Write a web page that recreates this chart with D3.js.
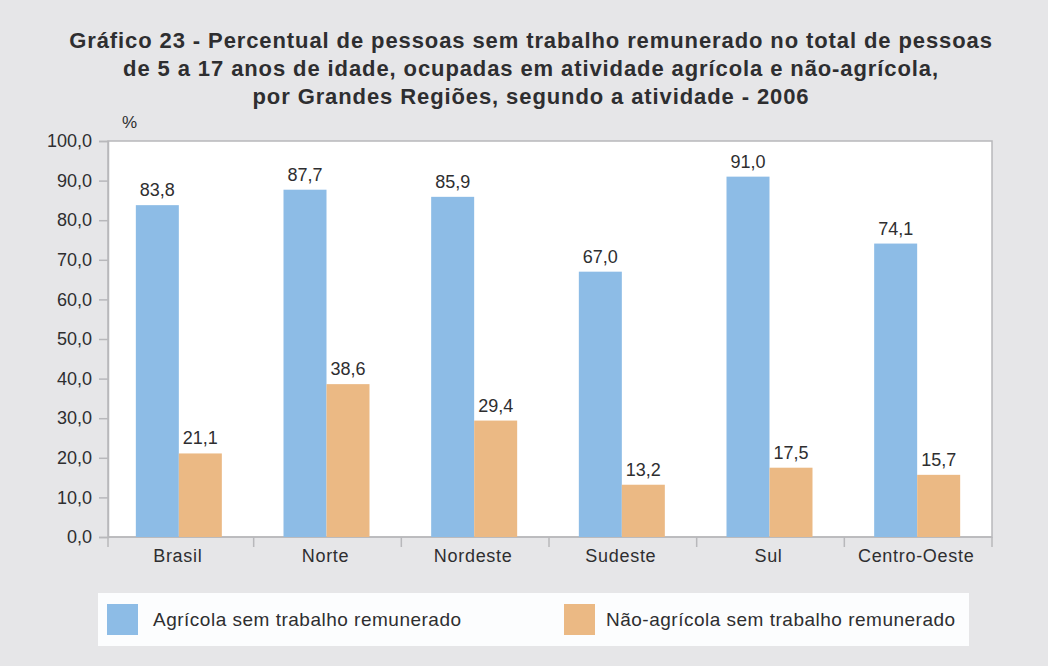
<!DOCTYPE html>
<html>
<head>
<meta charset="utf-8">
<script src="https://cdn.jsdelivr.net/npm/d3@7"></script>
<style>
  body { margin: 0; background: #e6e6e8; }
  svg { display: block; font-family: "Liberation Sans", Arial, sans-serif; }
</style>
</head>
<body>
<div id="chart"></div>
<script>
var regioes = ["Brasil", "Norte", "Nordeste", "Sudeste", "Sul", "Centro-Oeste"];
var agricola = [83.8, 87.7, 85.9, 67.0, 91.0, 74.1];
var naoAgricola = [21.1, 38.6, 29.4, 13.2, 17.5, 15.7];
var series = ["Agrícola sem trabalho remunerado", "Não-agrícola sem trabalho remunerado"];
var yTicks = [0, 10, 20, 30, 40, 50, 60, 70, 80, 90, 100];
var titulo = [
  "Gráfico 23 - Percentual de pessoas sem trabalho remunerado no total de pessoas",
  "de 5 a 17 anos de idade, ocupadas em atividade agrícola e não-agrícola,",
  "por Grandes Regiões, segundo a atividade - 2006"
];

var W = 1048, H = 666;
var margin = {top: 141, right: 56, bottom: 129, left: 106};
var width = W - margin.left - margin.right,
    height = H - margin.top - margin.bottom;
var cores = ["#8dbce6", "#ebb984"];
var texto = "#2e2e30";
var fmt = function(v) { return d3.format(".1f")(v).replace(".", ","); };

var svg = d3.select("#chart").append("svg")
    .attr("width", W).attr("height", H);

svg.append("rect").attr("width", W).attr("height", H).attr("fill", "#e6e6e8");

// title
svg.append("g").selectAll("text")
  .data(titulo).enter().append("text")
    .attr("x", 531)
    .attr("y", function(d, i) { return 48 + i * 28; })
    .attr("text-anchor", "middle")
    .style("font-size", "22px")
    .style("font-weight", "bold")
    .style("letter-spacing", "0.9px")
    .attr("fill", texto)
    .text(function(d) { return d; });

var g = svg.append("g")
    .attr("transform", "translate(" + margin.left + "," + margin.top + ")");

var x = d3.scaleBand().domain(regioes).range([0, width]);
var xs = d3.scaleBand().domain([0, 1]).range([x.bandwidth() / 2 - 44, x.bandwidth() / 2 + 42]);
var y = d3.scaleLinear().domain([0, 100]).range([height, 0]);

// plot area
g.append("rect")
    .attr("x", 2).attr("y", 0)
    .attr("width", width - 2).attr("height", height)
    .attr("fill", "#fff")
    .attr("stroke", "#b8b8bb").attr("stroke-width", 1.5);

// y axis
var yAxis = g.append("g")
    .attr("transform", "translate(2,0)")
    .call(d3.axisLeft(y).tickValues(yTicks).tickSize(9).tickPadding(7).tickFormat(fmt));
yAxis.select(".domain").attr("stroke", "#b8b8bb").attr("stroke-width", 1.5);
yAxis.selectAll(".tick line").attr("stroke", "#b8b8bb").attr("stroke-width", 1.5);
yAxis.selectAll("text").style("font-size", "18px").attr("fill", texto)
    .style("font-family", "Liberation Sans, Arial, sans-serif");

svg.append("text")
    .attr("x", 122).attr("y", 128)
    .style("font-size", "17px").attr("fill", texto)
    .text("%");

// x axis: category separators and labels
var bounds = regioes.map(function(r) { return x(r); }).concat([width]);
g.append("line")
    .attr("x1", 2).attr("x2", width).attr("y1", height).attr("y2", height)
    .attr("stroke", "#b8b8bb").attr("stroke-width", 1.5);
g.selectAll(".sep")
  .data(bounds).enter().append("line")
    .attr("class", "sep")
    .attr("x1", function(d, i) { return i === 0 ? 2 : d; })
    .attr("x2", function(d, i) { return i === 0 ? 2 : d; })
    .attr("y1", height).attr("y2", height + 10)
    .attr("stroke", "#b8b8bb").attr("stroke-width", 1.5);
g.selectAll(".xlab")
  .data(regioes).enter().append("text")
    .attr("class", "xlab")
    .attr("x", function(d) { return x(d) + x.bandwidth() / 2 - 2; })
    .attr("y", height + 25)
    .attr("text-anchor", "middle")
    .style("font-size", "18px").style("letter-spacing", "0.7px").attr("fill", texto)
    .text(function(d) { return d; });

// bars
var dados = regioes.map(function(r, i) {
  return {regiao: r, valores: [agricola[i], naoAgricola[i]]};
});
var grupos = g.selectAll(".grupo")
  .data(dados).enter().append("g")
    .attr("transform", function(d) { return "translate(" + x(d.regiao) + ",0)"; });

grupos.selectAll("rect")
  .data(function(d) { return d.valores; }).enter().append("rect")
    .attr("x", function(d, i) { return xs(i); })
    .attr("width", xs.bandwidth())
    .attr("y", function(d) { return y(d); })
    .attr("height", function(d) { return height - y(d); })
    .attr("fill", function(d, i) { return cores[i]; });

grupos.selectAll(".val")
  .data(function(d) { return d.valores; }).enter().append("text")
    .attr("class", "val")
    .attr("x", function(d, i) { return xs(i) + xs.bandwidth() / 2; })
    .attr("y", function(d) { return y(d) - 9; })
    .attr("text-anchor", "middle")
    .style("font-size", "18px").attr("fill", texto)
    .text(fmt);

// legend
var leg = svg.append("g");
leg.append("rect")
    .attr("x", 98).attr("y", 593).attr("width", 871).attr("height", 53)
    .attr("fill", "#fcfdfe");
var itens = leg.selectAll(".item")
  .data(series).enter().append("g")
    .attr("transform", function(d, i) { return "translate(" + (i === 0 ? 107 : 564) + ",604)"; });
itens.append("rect")
    .attr("width", 31).attr("height", 31)
    .attr("fill", function(d, i) { return cores[i]; });
itens.append("text")
    .attr("x", function(d, i) { return i === 0 ? 46 : 42; })
    .attr("y", 22)
    .style("font-size", "19px").style("letter-spacing", "0.5px").attr("fill", texto)
    .text(function(d) { return d; });
</script>
</body>
</html>
